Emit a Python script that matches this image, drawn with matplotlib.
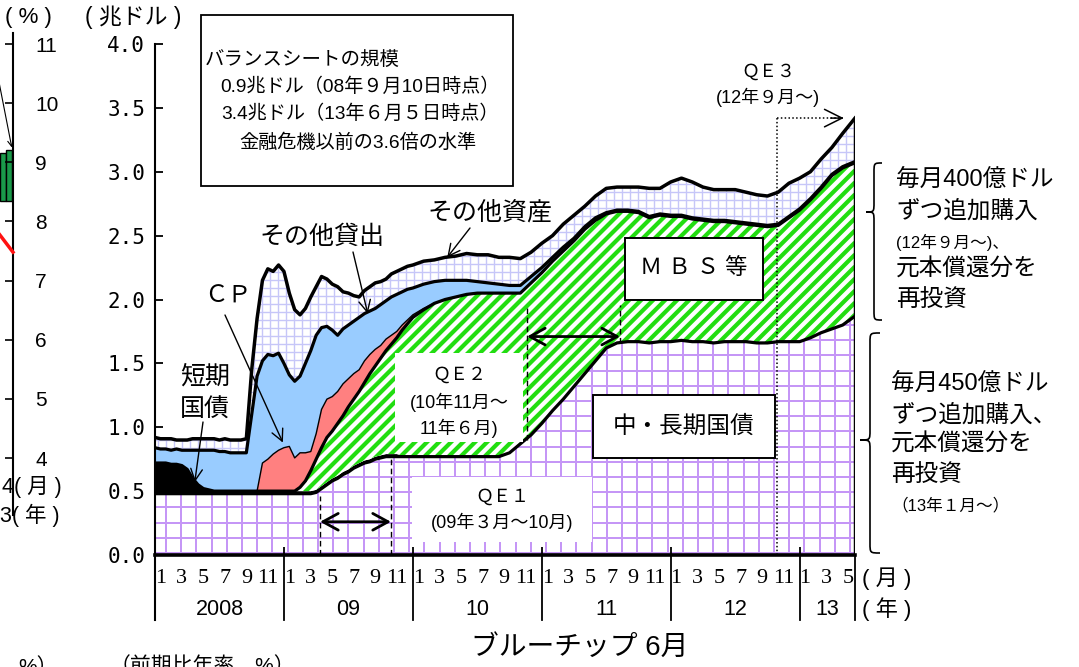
import numpy as np
import matplotlib
matplotlib.use('Agg')
import matplotlib.pyplot as plt
from matplotlib import font_manager as fm
from matplotlib.collections import LineCollection
from matplotlib.transforms import IdentityTransform, blended_transform_factory
from matplotlib.patches import Rectangle, PathPatch
from matplotlib.path import Path

W, H, DPI = 1079, 667, 100
avail = {f.name for f in fm.fontManager.ttflist}
JP = 'Noto Sans CJK JP'
SANS = ['Liberation Sans', JP]
NARROW = ['Liberation Sans Narrow' if 'Liberation Sans Narrow' in avail else 'Liberation Sans', JP]
plt.rcParams['font.family'] = SANS

# ---------------- data (months since Jan 2008, trillion USD) ----------------
t = np.concatenate([np.arange(0, 24.5, 0.5), np.arange(25, 65, 1.0), [65.15]])

tsy = [0.48, 0.48, 0.48, 0.48, 0.48, 0.48, 0.48, 0.48, 0.48, 0.48, 0.48, 0.48,
       0.48, 0.48, 0.48, 0.48, 0.48, 0.48, 0.48, 0.48, 0.48, 0.48, 0.48, 0.48,
       0.48, 0.48, 0.48, 0.48, 0.48, 0.48, 0.49, 0.52, 0.55, 0.58, 0.60, 0.63,
       0.65, 0.68, 0.70, 0.72, 0.73, 0.75, 0.76, 0.77, 0.77, 0.77, 0.77, 0.77,
       0.77,
       0.77, 0.77, 0.77, 0.77, 0.77, 0.77, 0.77, 0.77, 0.80, 0.87, 0.94,
       1.03, 1.13, 1.22, 1.32, 1.42, 1.52, 1.62, 1.66, 1.67, 1.67, 1.66, 1.67,
       1.67, 1.68, 1.67, 1.67, 1.66, 1.67, 1.67, 1.67, 1.66, 1.66, 1.67, 1.67,
       1.67, 1.70, 1.74, 1.77, 1.80, 1.87]

bills = [0.24, 0.24, 0.24, 0.23, 0.23, 0.22, 0.19, 0.12, 0.07, 0.04, 0.03, 0.02,
         0.02, 0.02, 0.02, 0.02, 0.02, 0.02, 0.02, 0.02, 0.02, 0.02, 0.02, 0.02,
         0.02, 0.02, 0.02, 0.02, 0.02, 0.02, 0.02, 0.02, 0.02, 0.02, 0.02, 0.02,
         0.02, 0.02, 0.02, 0.02, 0.02, 0.02, 0.02, 0.02, 0.02, 0.02, 0.01, 0.01,
         0.00,
         0, 0, 0, 0, 0, 0, 0, 0, 0, 0, 0,
         0, 0, 0, 0, 0, 0, 0, 0, 0, 0, 0, 0,
         0, 0, 0, 0, 0, 0, 0, 0, 0, 0, 0, 0,
         0, 0, 0, 0, 0, 0]

mbs = [0, 0, 0, 0, 0, 0, 0, 0, 0, 0, 0, 0,
       0, 0, 0, 0, 0, 0, 0, 0, 0, 0, 0, 0,
       0, 0, 0.00, 0.03, 0.08, 0.16, 0.24, 0.30, 0.35, 0.37, 0.41, 0.44,
       0.49, 0.52, 0.56, 0.61, 0.67, 0.71, 0.76, 0.81, 0.86, 0.91, 0.98, 1.03,
       1.09,
       1.15, 1.20, 1.23, 1.25, 1.27, 1.28, 1.28, 1.28, 1.25, 1.18, 1.19,
       1.18, 1.17, 1.16, 1.14, 1.13, 1.10, 1.05, 1.03, 1.02, 1.01, 0.98, 0.99,
       0.98, 0.97, 0.96, 0.95, 0.95, 0.94, 0.93, 0.92, 0.92, 0.91, 0.91, 0.97,
       1.03, 1.08, 1.13, 1.20, 1.23, 1.20]

cp = [0, 0, 0, 0, 0, 0, 0, 0, 0, 0, 0, 0,
      0, 0, 0, 0, 0, 0, 0, 0, 0.22, 0.25, 0.29, 0.32,
      0.34, 0.35, 0.26, 0.27, 0.22, 0.15, 0.20, 0.30, 0.30, 0.27, 0.25, 0.25,
      0.22, 0.20, 0.17, 0.17, 0.15, 0.13, 0.10, 0.09, 0.07, 0.05, 0.04, 0.03,
      0.02,
      0.01, 0, 0, 0, 0, 0, 0, 0, 0, 0, 0,
      0, 0, 0, 0, 0, 0, 0, 0, 0, 0, 0, 0,
      0, 0, 0, 0, 0, 0, 0, 0, 0, 0, 0, 0,
      0, 0, 0, 0, 0, 0]

loans = [0.12, 0.11, 0.11, 0.11, 0.12, 0.12, 0.15, 0.22, 0.27, 0.30, 0.31, 0.32,
         0.31, 0.31, 0.30, 0.30, 0.30, 0.30, 0.60, 0.90, 0.80, 0.82, 0.77, 0.76,
         0.66, 0.56, 0.60, 0.60, 0.70, 0.79, 0.77, 0.64, 0.57, 0.52, 0.44, 0.43,
         0.42, 0.41, 0.41, 0.37, 0.34, 0.32, 0.32, 0.30, 0.30, 0.29, 0.26, 0.24,
         0.21,
         0.19, 0.17, 0.15, 0.13, 0.11, 0.09, 0.08, 0.07, 0.06, 0.06, 0.05,
         0.04, 0.03, 0.03, 0.02, 0.02, 0.02, 0.01, 0.01, 0.01, 0.01, 0.01, 0.01,
         0.01, 0.01, 0.01, 0.01, 0.01, 0.01, 0.01, 0.01, 0.01, 0.01, 0.01, 0.01,
         0.01, 0.01, 0.01, 0.01, 0.01, 0.01]

other = [0.08, 0.08, 0.08, 0.09, 0.07, 0.08, 0.08, 0.09, 0.09, 0.09, 0.09, 0.09,
         0.09, 0.10, 0.10, 0.10, 0.10, 0.11, 0.35, 0.45, 0.63, 0.67, 0.66, 0.69,
         0.72, 0.64, 0.56, 0.48, 0.43, 0.42, 0.38, 0.40, 0.37, 0.36, 0.38, 0.29,
         0.25, 0.20, 0.16, 0.18, 0.19, 0.20, 0.18, 0.17, 0.18, 0.18, 0.18, 0.18,
         0.18,
         0.18, 0.17, 0.18, 0.19, 0.21, 0.21, 0.22, 0.21, 0.22, 0.21, 0.19,
         0.19, 0.17, 0.18, 0.18, 0.16, 0.17, 0.19, 0.18, 0.18, 0.19, 0.22, 0.20,
         0.26, 0.29, 0.28, 0.25, 0.24, 0.24, 0.25, 0.24, 0.23, 0.23, 0.25, 0.26,
         0.24, 0.21, 0.22, 0.21, 0.26, 0.34]

month_labels = ['1', '3', '5', '7', '9', '11']
year_labels = ['2008', '09', '10', '11', '12', '13']
y_ticks = [0.0, 0.5, 1.0, 1.5, 2.0, 2.5, 3.0, 3.5, 4.0]
qe1 = (15.36, 21.96)
qe2 = (34.62, 43.28)
qe3 = 57.9

# fragment of neighbouring chart (left edge)
frag_ticks = [4, 5, 6, 7, 8, 9, 10, 11]
frag_bar_x = [0.83, 0.94]
frag_bar_bottom = [8.35, 8.35]
frag_bar_top = [9.15, 9.2]
frag_line_x = [0.70, 1.0]
frag_line_y = [7.88, 7.48]

# ---------------- figure ----------------
fig = plt.figure(figsize=(W / DPI, H / DPI), dpi=DPI)
fig.patch.set_facecolor('white')
ax = fig.add_axes([155 / W, 112 / H, 700 / W, 511 / H])
ax.set_xlim(0, 65.15)
ax.set_ylim(0, 4)
ax.patch.set_alpha(0)

c1 = np.array(tsy)
c2 = c1 + np.array(bills)
c3 = c2 + np.array(mbs)
c4 = c3 + np.array(cp)
c5 = c4 + np.array(loans)
c6 = c5 + np.array(other)


def pattern(coll, kind, spacing, lw_px, color, offx=0.0, offy=0.0):
    x0, y0, x1, y1 = ax.bbox.extents
    segs = []
    if kind == 'grid':
        for x in np.arange(x0 + offx, x1 + 1, spacing):
            segs.append([(x, y0 - 5), (x, y1 + 5)])
        for y in np.arange(y0 + offy, y1 + 1, spacing):
            segs.append([(x0 - 5, y), (x1 + 5, y)])
    else:
        step = spacing * np.sqrt(2)
        for c in np.arange(y0 - x1 + offx, y1 - x0, step):
            segs.append([(x0, x0 + c), (x1, x1 + c)])
    lc = LineCollection(segs, colors=color, linewidths=lw_px * 72 / DPI,
                        transform=IdentityTransform(), zorder=1.5)
    lc.set_clip_path(coll.get_paths()[0], ax.transData)
    ax.add_collection(lc, autolim=False)


f_tsy = ax.fill_between(t, 0, c1, facecolor='white', edgecolor='none', zorder=1)
pattern(f_tsy, 'grid', 15.2, 2.0, '#c596f6', offx=11, offy=2)
ax.fill_between(t, c1, c2, facecolor='black', edgecolor='none', zorder=1)
f_mbs = ax.fill_between(t, c2, c3, facecolor='white', edgecolor='none', zorder=1)
pattern(f_mbs, 'diag', 8.5, 4.2, '#22dd11')
ax.fill_between(t, c3, c4, facecolor='#ff8080', edgecolor='none', zorder=1)
ax.fill_between(t, c4, c5, facecolor='#99ccff', edgecolor='none', zorder=1)
f_oth = ax.fill_between(t, c5, c6, facecolor='white', edgecolor='none', zorder=1)
pattern(f_oth, 'grid', 8.0, 1.4, '#c6c6f8', offx=3, offy=3)

ax.plot(t, c4, color='black', lw=1.0, zorder=3)
ax.plot(t, c1, color='black', lw=2.3, zorder=3)
ax.plot(t, c3, color='black', lw=2.3, zorder=3)
ax.plot(t, c5, color='black', lw=2.3, zorder=3)
ax.plot(t, c6, color='black', lw=2.5, zorder=3)
ax.vlines(t[-1], 0, c6[-1], color='black', lw=2.5, zorder=3)

# axes styling
for s in ['top', 'right']:
    ax.spines[s].set_visible(False)
ax.spines['left'].set_linewidth(1.5)
ax.spines['bottom'].set_linewidth(2.6)
ax.spines['bottom'].set_zorder(4)
ax.set_yticks(y_ticks)
ax.set_yticklabels([f'{v:.1f}' for v in y_ticks], fontfamily='DejaVu Sans Mono', fontsize=15)
ax.tick_params(axis='y', direction='in', length=6, width=1.3, pad=7)
ax.set_xticks([12, 24, 36, 48, 60])
ax.tick_params(axis='x', direction='in', length=6, width=1.3, labelbottom=False)

btr = blended_transform_factory(ax.transData, ax.transAxes)
for xs, lw in [(0, 1.5), (12, 1.3), (24, 1.3), (36, 1.3), (48, 1.3), (60, 1.3), (65.15, 1.3)]:
    ax.plot([xs, xs], [0, -0.127], transform=btr, clip_on=False, color='black', lw=lw)
for yi, yl in enumerate(year_labels):
    for k, ml in enumerate(month_labels):
        m = yi * 12 + 2 * k + 0.5
        if m > 65.15:
            continue
        ax.text(m, -0.046, ml, transform=btr, ha='center', va='center',
                fontfamily='Liberation Serif', fontsize=16)
    cen = yi * 12 + 6 if yi < 5 else (60 + 65.15) / 2
    ax.text(cen, -0.106, yl, transform=btr, ha='center', va='center',
            fontfamily=NARROW, fontsize=15.5)

# ---------------- helpers for pixel positioned annotations ----------------
IDT = IdentityTransform()


def ftext(x, y, s, size, ha='left', va='center', family=None, z=6, **kw):
    return ax.text(x, H - y, s, transform=IDT, fontsize=size, ha=ha, va=va,
                   family=family or SANS, zorder=z, clip_on=False, **kw)


def box(x0, y0, x1, y1, edge='none', lw=1.5):
    ax.add_patch(Rectangle((x0, H - y1), x1 - x0, y1 - y0, transform=IDT,
                           facecolor='white', edgecolor=edge, lw=lw, zorder=5,
                           clip_on=False))


def arrow(tail_px, head_data, lw=1.0):
    ax.annotate('', xy=head_data, xycoords='data',
                xytext=(tail_px[0], H - tail_px[1]), textcoords='figure pixels',
                arrowprops=dict(arrowstyle='->,head_length=0.6,head_width=0.3',
                                lw=lw, color='black', shrinkA=0, shrinkB=0,
                                mutation_scale=14), zorder=6)


def brace(xr, ytop, ybot, xtip, ytip, lw=1.2):
    xs = xtip + (xr - xtip) * 0.5
    r = 10
    pts = [(xr, ytop), (xs, ytop), (xs, ytop), (xs, ytop + r),
           (xs, ytip - r),
           (xs, ytip), (xs, ytip), (xtip, ytip),
           (xs, ytip), (xs, ytip), (xs, ytip + r),
           (xs, ybot - r),
           (xs, ybot), (xs, ybot), (xr, ybot)]
    codes = [Path.MOVETO, Path.CURVE4, Path.CURVE4, Path.CURVE4, Path.LINETO,
             Path.CURVE4, Path.CURVE4, Path.CURVE4, Path.CURVE4, Path.CURVE4,
             Path.CURVE4, Path.LINETO, Path.CURVE4, Path.CURVE4, Path.CURVE4]
    pts = [(x, H - y) for x, y in pts]
    ax.add_patch(PathPatch(Path(pts, codes), transform=IDT, facecolor='none',
                           edgecolor='black', lw=lw, zorder=6, clip_on=False))


# info box
box(201, 15, 513, 186, edge='black', lw=1.3)
ftext(205, 60, 'バランスシートの規模', 14)
ftext(360, 87, '0.9兆ドル（08年９月10日時点）', 13.8, ha='center')
ftext(360, 114, '3.4兆ドル（13年６月５日時点）', 13.8, ha='center')
ftext(358, 143, '金融危機以前の3.6倍の水準', 13.8, ha='center')

# axis titles
fig.text(5 / W, 1 - 17 / H, '( % )', fontsize=16, va='center', family=SANS)
fig.text(85 / W, 1 - 17 / H, '( 兆ドル )', fontsize=16.5, va='center', family=SANS)
fig.text(862 / W, 1 - 579 / H, '( 月 )', fontsize=16, va='center', family=SANS)
fig.text(862 / W, 1 - 609 / H, '( 年 )', fontsize=16, va='center', family=SANS)

# series labels with arrows
ftext(490, 213, 'その他資産', 18, ha='center')
arrow((470, 228), (27.2, 2.33))
ftext(322, 237, 'その他貸出', 18, ha='center')
arrow((353, 252), (19.8, 1.89))
ftext(228, 297, 'ＣＰ', 17, ha='center')
arrow((225, 315), (11.9, 0.88))
ftext(205, 377, '短期', 18, ha='center')
ftext(205, 410, '国債', 18, ha='center')
arrow((203, 422), (3.7, 0.57))

# QE markers
dash = dict(color='black', lw=1.0, ls=(0, (4, 2.5)), zorder=4)
ax.plot([qe1[0], qe1[0]], [0, 0.46], **dash)
ax.plot([qe1[1], qe1[1]], [0, 0.77], **dash)
ax.annotate('', xy=(qe1[1], 0.26), xytext=(qe1[0], 0.26),
            arrowprops=dict(arrowstyle='<->,head_length=0.55,head_width=0.3', lw=2.0,
                            color='black', shrinkA=0, shrinkB=0, mutation_scale=20), zorder=6)
ax.plot([qe2[0], qe2[0]], [0.90, 1.93], **dash)
ax.plot([qe2[1], qe2[1]], [1.66, 1.96], **dash)
ax.annotate('', xy=(qe2[1], 1.71), xytext=(qe2[0], 1.71),
            arrowprops=dict(arrowstyle='<->,head_length=0.55,head_width=0.3', lw=2.0,
                            color='black', shrinkA=0, shrinkB=0, mutation_scale=20), zorder=6)
dot = dict(color='black', lw=1.1, ls=(0, (1, 1.5)), zorder=4)
ax.plot([qe3, qe3], [0, 3.42], **dot)
ax.plot([qe3, 64.0], [3.42, 3.42], **dot)
ax.annotate('', xy=(64.1, 3.42), xytext=(62.9, 3.42),
            arrowprops=dict(arrowstyle='->,head_length=0.7,head_width=0.35', lw=1.1,
                            color='black', shrinkA=0, shrinkB=0, mutation_scale=18), zorder=6)

box(395, 353, 523, 442)
ftext(459, 375, 'ＱＥ２', 13, ha='center')
ftext(459, 402, '(10年11月～', 13, ha='center')
ftext(459, 428, '11年６月)', 13, ha='center')
box(412, 477, 592, 542)
ftext(502, 497, 'ＱＥ１', 13, ha='center')
ftext(502, 522, '(09年３月～10月)', 13, ha='center')
ftext(768, 72, 'ＱＥ３', 13, ha='center')
ftext(768, 97, '(12年９月～)', 13, ha='center')

box(625, 238, 763, 300, edge='black', lw=1.4)
ftext(694, 269, 'Ｍ Ｂ Ｓ 等', 16, ha='center')
box(593, 395, 775, 458, edge='black', lw=1.4)
ftext(684, 427, '中・長期国債', 17, ha='center')

# right side notes
brace(882, 163, 320, 866, 212)
brace(880, 333, 553, 860, 440)
for y, s, sz in [(181, '毎月400億ドル', 17), (211, 'ずつ追加購入', 17),
                 (242, '(12年９月～)、', 12), (270, '元本償還分を', 17),
                 (300, '再投資', 17)]:
    ftext(896, y, s, sz)
for y, s, sz in [(385, '毎月450億ドル', 17), (415, 'ずつ追加購入、', 17),
                 (445, '元本償還分を', 17), (475, '再投資', 17),
                 (505, '（13年１月～）', 12)]:
    ftext(891, y, s, sz)

# bottom texts
fig.text(580 / W, 1 - 648 / H, 'ブルーチップ 6月', fontsize=20, ha='center', va='center', family=SANS)
fig.text(18 / W, 1 - 657 / H, '%）', fontsize=15, va='top', family=SANS)
fig.text(110 / W, 1 - 657 / H, '（前期比年率、%）', fontsize=15, va='top', family=SANS)

# ---------------- fragment of the neighbouring chart ----------------
ax0 = fig.add_axes([(13 - 60) / W, (H - 458) / H, 60 / W, (458 - 44) / H])
ax0.set_xlim(0, 1)
ax0.set_ylim(4, 11)
ax0.patch.set_visible(False)
for s in ax0.spines.values():
    s.set_visible(False)
ax0.set_xticks([])
ax0.yaxis.tick_right()
ax0.set_yticks(frag_ticks)
ax0.set_yticklabels([str(v) for v in frag_ticks], fontsize=15)
ax0.tick_params(axis='y', direction='in', length=6, width=1.2, pad=16)
btr0 = blended_transform_factory(ax0.transAxes, ax0.transData)
ax0.plot([1, 1], [3.04, 11.19], transform=btr0, clip_on=False, color='black', lw=1.5)
ax0.bar(frag_bar_x, np.array(frag_bar_top) - np.array(frag_bar_bottom), bottom=frag_bar_bottom,
        width=0.1, color='#1a9a4a', edgecolor='black', lw=1.0, clip_on=False)
ax0.plot(frag_line_x, frag_line_y, color='#ff1111', lw=2.5, clip_on=False)
ax0.annotate('', xy=(0.98, 9.25), xytext=(0.72, 10.6),
             arrowprops=dict(arrowstyle='->', lw=0.8, color='black', shrinkA=0, shrinkB=0))
fig.text(2 / W, 1 - 487 / H, '4( 月 )', fontsize=15.5, va='center', family=SANS)
fig.text(0 / W, 1 - 515 / H, '3( 年 )', fontsize=15.5, va='center', family=SANS)

fig.savefig('out.png', dpi=DPI)
